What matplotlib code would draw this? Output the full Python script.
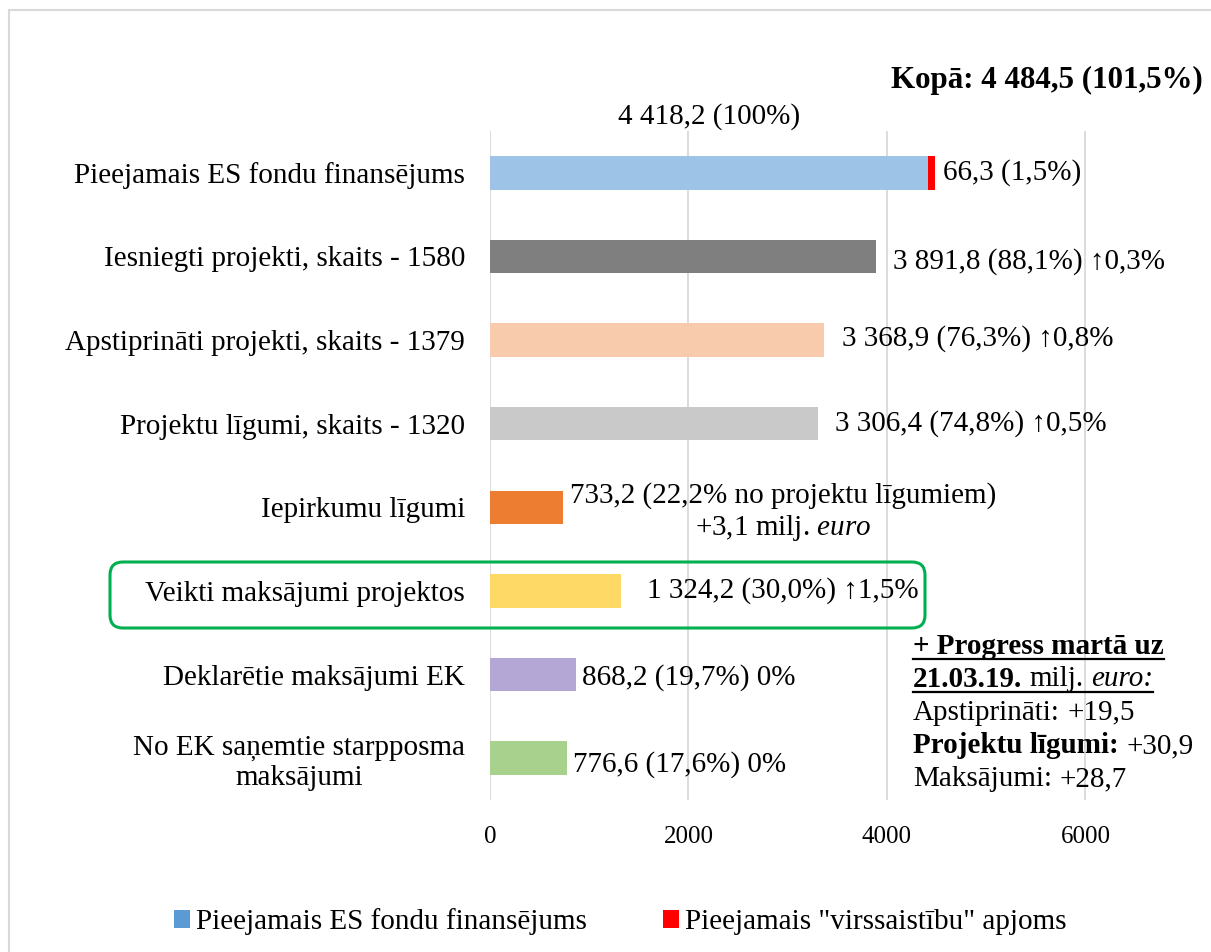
import matplotlib
matplotlib.use('Agg')
import matplotlib.pyplot as plt
from matplotlib.patches import Patch, FancyBboxPatch, Rectangle
from matplotlib.lines import Line2D

plt.rcParams['font.family'] = ['Liberation Serif', 'DejaVu Serif']
plt.rcParams['mathtext.fontset'] = 'custom'
plt.rcParams['mathtext.rm'] = 'Liberation Serif'
plt.rcParams['mathtext.it'] = 'Liberation Serif:italic'
plt.rcParams['mathtext.bf'] = 'Liberation Serif:bold'

# ---------------- data ----------------
categories = [
    "Pieejamais ES fondu finansējums",
    "Iesniegti projekti, skaits - 1580",
    "Apstiprināti projekti, skaits - 1379",
    "Projektu līgumi, skaits - 1320",
    "Iepirkumu līgumi",
    "Veikti maksājumi projektos",
    "Deklarētie maksājumi EK",
    "No EK saņemtie starpposma\nmaksājumi",
]
values = [4418.2, 3891.8, 3368.9, 3306.4, 733.2, 1324.2, 868.2, 776.6]
overcommit = [66.3, 0, 0, 0, 0, 0, 0, 0]
value_labels = [
    "66,3 (1,5%)",
    "3 891,8 (88,1%) ↑0,3%",
    "3 368,9 (76,3%) ↑0,8%",
    "3 306,4 (74,8%) ↑0,5%",
    "733,2 (22,2% no projektu līgumiem)\n+3,1 milj. $\\mathit{euro}$",
    "1 324,2 (30,0%) ↑1,5%",
    "868,2 (19,7%) 0%",
    "776,6 (17,6%) 0%",
]
base_label = "4 418,2 (100%)"
total_label = "Kopā: 4 484,5 (101,5%)"
legend_labels = ["Pieejamais ES fondu finansējums", 'Pieejamais "virssaistību" apjoms']
xticks = [0, 2000, 4000, 6000]
progress_lines = [
    [("+ Progress martā uz", "bold", "normal")],
    [("21.03.19.", "bold", "normal"), ("milj.", "normal", "normal"), ("euro:", "normal", "italic")],
    [("Apstiprināti:", "normal", "normal"), ("+19,5", "normal", "normal")],
    [("Projektu līgumi:", "bold", "normal"), ("+30,9", "normal", "normal")],
    [("Maksājumi:", "normal", "normal"), ("+28,7", "normal", "normal")],
]
underlined = [True, True, False, False, False]

# ---------------- style ----------------
bar_colors = ['#9DC3E6', '#7F7F7F', '#F8CBAD', '#C9C9C9', '#ED7D31', '#FFD966', '#B4A7D6', '#A9D18E']
over_color = '#FF0000'
legend_colors = ['#5B9BD5', '#FF0000']
label_dx = [8, 17, 18, 17, 7, 26, 6, 6]
label_dy = [0, -5, 2, 0, -5, 0, -3, -6]
FS = 21
W, H = 1211, 952

fig = plt.figure(figsize=(W / 100, H / 100), dpi=100)
ax = fig.add_axes([490 / W, 152 / H, (1135 - 490) / W, (800 - 131) / H])

ypos = list(range(len(categories)))
ax.barh(ypos, values, height=0.4, color=bar_colors, zorder=3)
ax.barh(ypos, overcommit, left=values, height=0.4, color=over_color, zorder=3)

ax.set_xlim(0, 6500)
ax.set_ylim(len(categories) - 0.5, -0.5)
ax.set_xticks(xticks)
ax.set_xticklabels([str(t) for t in xticks])
ax.set_yticks(ypos)
ax.set_yticklabels(categories, fontsize=FS, multialignment='center')
ax.tick_params(axis='both', length=0)
ax.tick_params(axis='y', pad=18)
ax.tick_params(axis='x', pad=19, labelsize=18)
for s in ax.spines.values():
    s.set_visible(False)
ax.grid(axis='x', color='#D9D9D9', linewidth=1.3, zorder=0)
ax.grid(axis='y', visible=False)

for i, lbl in enumerate(value_labels):
    ax.annotate(lbl, xy=(values[i] + overcommit[i], i), xytext=(label_dx[i], label_dy[i]),
                textcoords='offset pixels', ha='left', va='center', fontsize=FS,
                multialignment='center', annotation_clip=False)

ax.annotate(base_label, xy=(values[0] / 2, -0.5), xytext=(0, 14), textcoords='offset pixels',
            ha='center', va='center', fontsize=FS, annotation_clip=False)
fig.text(891 / W, 1 - 80 / H, total_label, fontsize=22.3, fontweight='bold', ha='left', va='center')

# progress block
line_objs = []
for li, parts in enumerate(progress_lines):
    y = 1 - (646 + 33.3 * li) / H
    objs = []
    prev = None
    for txt, weight, style in parts:
        if prev is None:
            t = fig.text(913 / W, y, txt, fontsize=FS, fontweight=weight, fontstyle=style,
                         ha='left', va='center')
        else:
            t = ax.annotate(txt, xy=(1, 0.5), xycoords=prev, xytext=(FS * 0.25, 0),
                            textcoords='offset points', fontsize=FS, fontweight=weight,
                            fontstyle=style, ha='left', va='center', annotation_clip=False)
        objs.append(t)
        prev = t
    line_objs.append(objs)

# green rounded highlight box
box = FancyBboxPatch((1.10, (H - 628) / 100), 8.15, 0.66,
                     boxstyle='round,pad=0,rounding_size=0.13',
                     transform=fig.dpi_scale_trans, facecolor='none',
                     edgecolor='#00B050', linewidth=2.2, zorder=5)
fig.add_artist(box)

# outer chart border
border = Rectangle((0.09, -0.5), 20, (H - 10) / 100 + 0.5, transform=fig.dpi_scale_trans,
                   facecolor='none', edgecolor='#D9D9D9', linewidth=1.5)
fig.add_artist(border)

handles = [Patch(facecolor=c, edgecolor='none') for c in legend_colors]
fig.legend(handles, legend_labels, loc='center', bbox_to_anchor=(0.512, 1 - 922 / H), ncol=2,
           frameon=False, fontsize=FS, handlelength=0.55, handleheight=0.55,
           handletextpad=0.2, columnspacing=2.6)

# underlines
fig.canvas.draw()
r = fig.canvas.get_renderer()
inv = fig.transFigure.inverted()
for objs, ul in zip(line_objs, underlined):
    if not ul:
        continue
    bbs = [o.get_window_extent(r) for o in objs]
    x0 = min(b.x0 for b in bbs)
    x1 = max(b.x1 for b in bbs)
    yb = min(b.y0 for b in bbs) + 0.5
    (fx0, fy), (fx1, _) = inv.transform([(x0, yb), (x1, yb)])
    fig.add_artist(Line2D([fx0, fx1], [fy, fy], transform=fig.transFigure, color='black', linewidth=1.6))

fig.savefig('out.png', dpi=100)
